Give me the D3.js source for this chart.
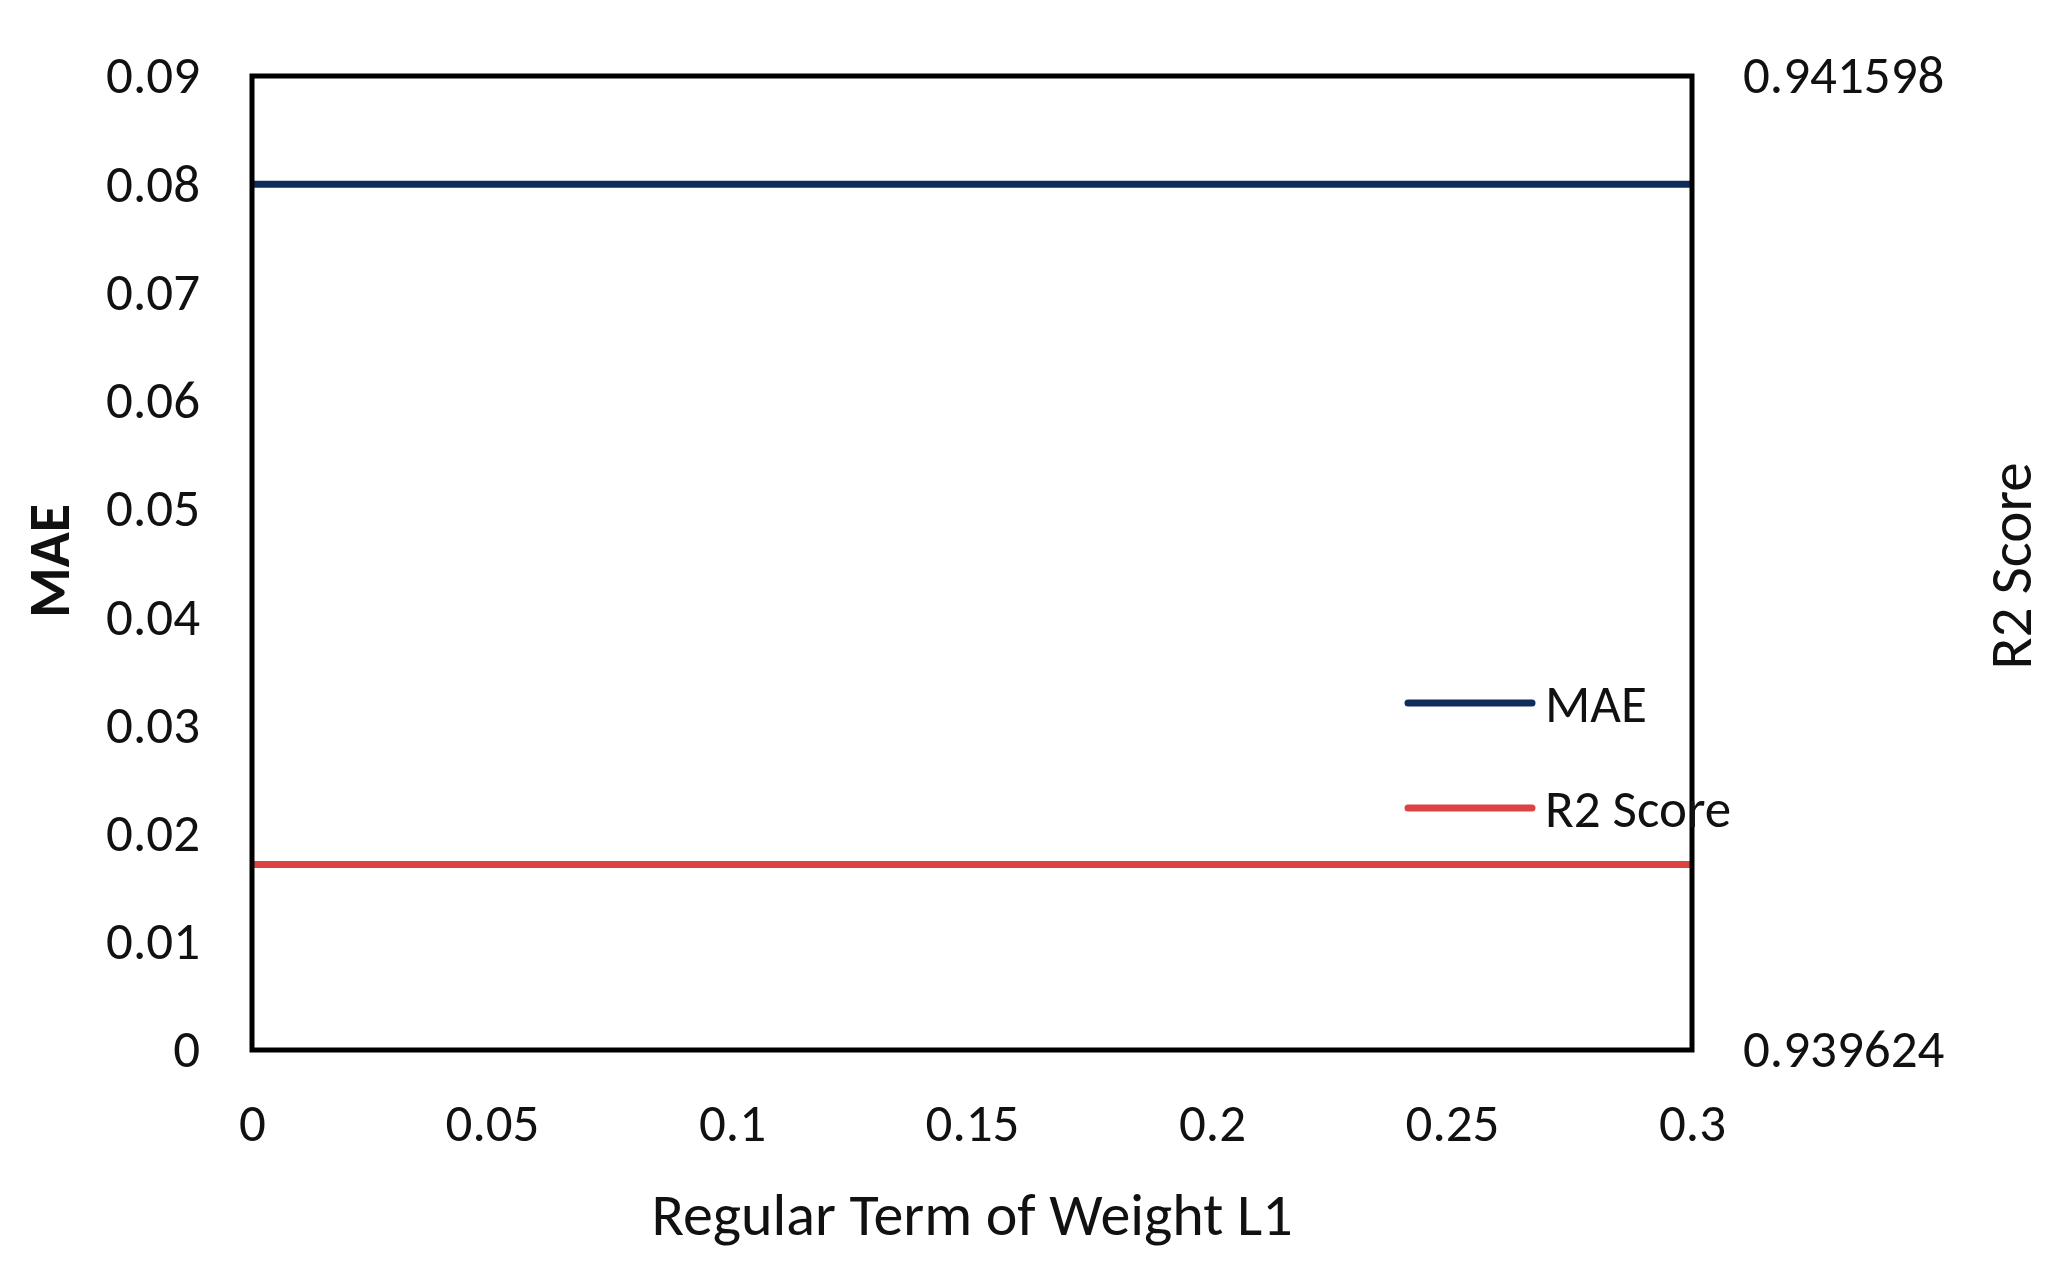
<!DOCTYPE html>
<html>
<head>
<meta charset="utf-8">
<script src="https://cdn.jsdelivr.net/npm/d3@7"></script>
<style>
  body { margin: 0; background: #fff; }
  text { font-family: Carlito, Calibri, Lato, sans-serif; fill: #111; }
</style>
</head>
<body>
<div id="chart"></div>
<script>
// values
var xValues = [0, 0.05, 0.1, 0.15, 0.2, 0.25, 0.3];
var maeValues = [0.08, 0.08, 0.08, 0.08, 0.08, 0.08, 0.08];
var r2Values = [0.94, 0.94, 0.94, 0.94, 0.94, 0.94, 0.94];
var xTicks = [0, 0.05, 0.1, 0.15, 0.2, 0.25, 0.3];
var maeTicks = [0, 0.01, 0.02, 0.03, 0.04, 0.05, 0.06, 0.07, 0.08, 0.09];
var r2Ticks = [0.939624, 0.941598];
var seriesNames = ["MAE", "R2 Score"];

var svgWidth = 2059;
var svgHeight = 1266;

var margin = { top: 76, right: 367, bottom: 216, left: 252 };
var width = svgWidth - margin.left - margin.right;
var height = svgHeight - margin.top - margin.bottom;

var colors = { "MAE": "#0e2d5b", "R2 Score": "#dc4343" };
var fontSize = 53;
var titleSize = 60;

var svg = d3.select("#chart")
  .append("svg")
  .attr("width", svgWidth)
  .attr("height", svgHeight);

var chartGroup = svg.append("g")
  .attr("transform", `translate(${margin.left}, ${margin.top})`);

// scales
var xScale = d3.scaleLinear().domain([0, 0.3]).range([0, width]);
var yLeft = d3.scaleLinear().domain([0, 0.09]).range([height, 0]);
var yRight = d3.scaleLinear().domain([0.939624, 0.941598]).range([height, 0]);

// axes (no tick marks, just labels)
var bottomAxis = d3.axisBottom(xScale)
  .tickValues(xTicks)
  .tickSize(0)
  .tickPadding(72)
  .tickFormat(d => d3.format("")(+d.toFixed(2)));

var leftAxis = d3.axisLeft(yLeft)
  .tickValues(maeTicks)
  .tickSize(0)
  .tickPadding(52)
  .tickFormat(d => d3.format("")(+d.toFixed(2)));

var rightAxis = d3.axisRight(yRight)
  .tickValues(r2Ticks)
  .tickSize(0)
  .tickPadding(51)
  .tickFormat(d3.format(".6f"));

function styleAxis(g) {
  g.select(".domain").remove();
  g.selectAll("text")
    .attr("font-size", fontSize)
    .style("font-family", "Carlito, Calibri, Lato, sans-serif")
    .attr("fill", "#111");
}

chartGroup.append("g")
  .attr("transform", `translate(0, ${height})`)
  .call(bottomAxis)
  .call(styleAxis)
  .selectAll("text").attr("dy", "0.35em");

chartGroup.append("g")
  .call(leftAxis)
  .call(styleAxis);

chartGroup.append("g")
  .attr("transform", `translate(${width}, 0)`)
  .call(rightAxis)
  .call(styleAxis);

// series lines
var maeLine = d3.line()
  .x((d, i) => xScale(xValues[i]))
  .y(d => yLeft(d));

var r2Line = d3.line()
  .x((d, i) => xScale(xValues[i]))
  .y(d => yRight(d));

chartGroup.append("path")
  .datum(r2Values)
  .attr("d", r2Line)
  .attr("fill", "none")
  .attr("stroke", colors["R2 Score"])
  .attr("stroke-width", 7);

chartGroup.append("path")
  .datum(maeValues)
  .attr("d", maeLine)
  .attr("fill", "none")
  .attr("stroke", colors["MAE"])
  .attr("stroke-width", 7);

// plot frame
chartGroup.append("rect")
  .attr("x", 0)
  .attr("y", 0)
  .attr("width", width)
  .attr("height", height)
  .attr("fill", "none")
  .attr("stroke", "#000")
  .attr("stroke-width", 5);

// legend
var legend = svg.append("g")
  .attr("transform", "translate(1408, 703)");

seriesNames.forEach(function(name, i) {
  var row = legend.append("g").attr("transform", `translate(0, ${i * 105})`);
  row.append("line")
    .attr("x1", 0).attr("x2", 124)
    .attr("y1", 0).attr("y2", 0)
    .attr("stroke", colors[name])
    .attr("stroke-width", 7)
    .attr("stroke-linecap", "round");
  row.append("text")
    .attr("x", 137)
    .attr("y", 0)
    .attr("dy", "0.35em")
    .attr("font-size", fontSize)
    .text(name);
});

// axis titles
svg.append("text")
  .attr("transform", "translate(49, 561) rotate(-90)")
  .attr("text-anchor", "middle")
  .attr("dy", "0.35em")
  .attr("font-size", 58)
  .attr("font-weight", "bold")
  .text("MAE");

svg.append("text")
  .attr("transform", "translate(2010, 566) rotate(-90)")
  .attr("text-anchor", "middle")
  .attr("dy", "0.35em")
  .attr("font-size", 59)
  .text("R2 Score");

svg.append("text")
  .attr("x", margin.left + width / 2)
  .attr("y", 1214)
  .attr("text-anchor", "middle")
  .attr("dy", "0.35em")
  .attr("font-size", titleSize)
  .text("Regular Term of Weight L1");
</script>
</body>
</html>
